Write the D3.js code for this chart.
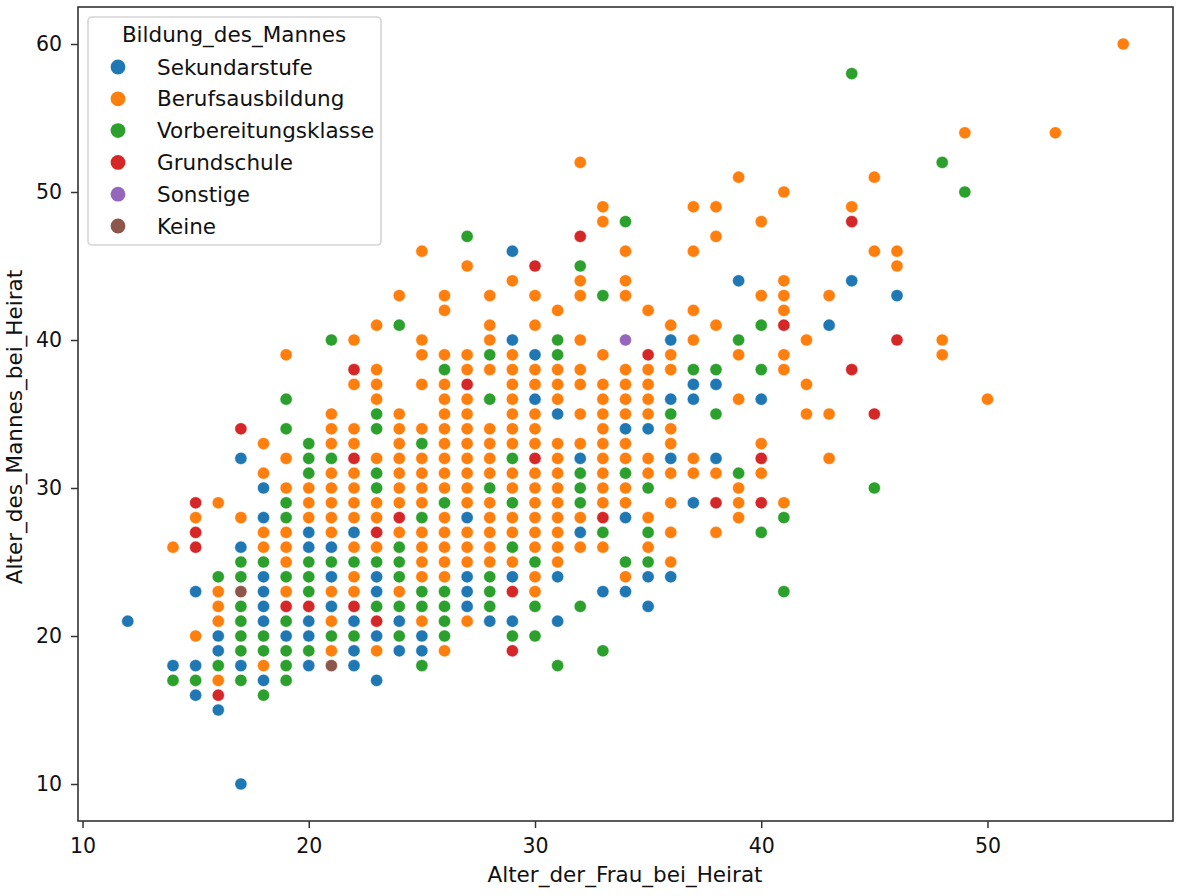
<!DOCTYPE html>
<html>
<head>
<meta charset="utf-8">
<script src="https://cdn.jsdelivr.net/npm/d3@7"></script>
<style>
	html, body { margin: 0; padding: 0; background: #fff; }
	svg { display: block; }
	text { font-family: "DejaVu Sans", sans-serif; fill: #111; }
</style>
</head>
<body>
<script>
// each row is [Alter_der_Frau, [Alter_des_Mannes, ...]]
const sekundarstufe = [[12,[21]],[14,[18]],[15,[23,18,16]],[16,[20,19,15]],[17,[32,26,18,10]],[18,[30,28,24,23,22,21,17]],[19,[20]],[20,[27,26,21,20,18]],[21,[26,24,22]],[22,[27,21,19,18]],[23,[24,23,20,17]],[24,[21,19]],[25,[20,19]],[27,[28,24,23,22]],[28,[21]],[29,[46,40,24,21]],[30,[39,36]],[31,[35,24,21]],[32,[32,27]],[33,[23]],[34,[34,28,23]],[35,[34,24,22]],[36,[40,36,32,24]],[37,[37,36,29]],[38,[37,32]],[39,[44]],[40,[36]],[43,[41]],[44,[44]],[46,[43]]]
const berufsausbildung = [[14,[26]],[15,[28,20]],[16,[29,23,22,21,17]],[17,[28]],[18,[33,31,27,26,18]],[19,[39,32,30,27,26,25,23]],[20,[30,29,28]],[21,[35,34,33,31,30,29,28,27,23,21,19]],[22,[40,37,34,33,31,30,29,28,26,24,23]],[23,[41,38,37,36,32,29,28,26,19]],[24,[43,35,34,33,32,31,30,29,27,23]],[25,[46,40,39,37,34,32,31,30,29,27,26,25,24,21]],[26,[43,42,39,37,36,35,34,33,32,31,30,28,27,26,25,24,19]],[27,[45,39,38,36,35,34,33,32,31,30,29,27,26,25,21]],[28,[43,41,40,38,34,33,32,31,29,28,27,26,25]],[29,[44,39,38,37,36,35,34,33,31,30,28,27,25]],[30,[43,41,38,37,35,34,33,31,30,29,28,27,26,24,23]],[31,[42,38,37,36,33,32,31,30,29,28,27,26,25]],[32,[52,44,43,40,38,37,35,33,28,26]],[33,[49,48,39,37,36,35,34,33,32,31,30,29,26]],[34,[46,44,43,38,37,36,35,33,32,30,29,24]],[35,[42,38,37,36,35,32,31,28,26]],[36,[41,39,38,34,33,31,29,27,25]],[37,[49,46,42,40,32,31]],[38,[49,47,41,31,27]],[39,[51,39,36,30,29,28]],[40,[48,43,33,31]],[41,[50,44,43,42,39,38,29]],[42,[40,37,35]],[43,[43,35,32]],[44,[49]],[45,[51,46]],[46,[46,45]],[48,[40,39]],[49,[54]],[50,[36]],[53,[54]],[56,[60]]]
const vorbereitungsklasse = [[14,[17]],[15,[17]],[16,[24,18]],[17,[25,24,22,21,20,19,17]],[18,[25,20,19,16]],[19,[36,34,29,28,24,21,19,18,17]],[20,[33,32,31,25,24,23,19]],[21,[40,32,25,20]],[22,[25,20]],[23,[35,34,31,30,25,22]],[24,[41,26,25,24,22,20]],[25,[33,28,23,22,18]],[26,[38,29,23,22,21,20]],[27,[47]],[28,[39,36,30,24,23,22]],[29,[32,29,26,20]],[30,[25,22,20]],[31,[40,39,18]],[32,[45,31,30,29,22]],[33,[43,27,19]],[34,[48,31,25]],[35,[30,27,25]],[36,[35]],[37,[38]],[38,[38,35]],[39,[40,31]],[40,[41,38,27]],[41,[28,23]],[44,[58]],[45,[30]],[48,[52]],[49,[50]]]
const grundschule = [[15,[29,27,26]],[16,[16]],[17,[34]],[19,[22]],[20,[22]],[22,[38,32,22]],[23,[27,21]],[24,[28]],[27,[37]],[29,[23,19]],[30,[45,32]],[32,[47]],[33,[28]],[35,[39]],[38,[29]],[40,[32,29]],[41,[41]],[44,[48,38]],[45,[35]],[46,[40]]]
const sonstige = [[34,[40]]]
const keine = [[17,[23]],[21,[18]]]

const categories = ['Sekundarstufe', 'Berufsausbildung', 'Vorbereitungsklasse', 'Grundschule', 'Sonstige', 'Keine']
const seriesRows = [sekundarstufe, berufsausbildung, vorbereitungsklasse, grundschule, sonstige, keine]
const colors = ['#1f77b4', '#ff7f0e', '#2ca02c', '#d62728', '#9467bd', '#8c564b']
const xTicks = [10, 20, 30, 40, 50]
const yTicks = [10, 20, 30, 40, 50, 60]

const width = 1184, height = 896
const margin = { left: 78, right: 11, top: 7, bottom: 75 }

const svg = d3.select('body').append('svg')
	.attr('width', width)
	.attr('height', height)

const x = d3.scaleLinear().domain([9.8, 58.2]).range([margin.left, width - margin.right])
const y = d3.scaleLinear().domain([7.5, 62.5]).range([height - margin.bottom, margin.top])
const color = d3.scaleOrdinal().domain(categories).range(colors)

const data = seriesRows.flatMap((rows, i) =>
	rows.flatMap(([frau, maenner]) => maenner.map(mann => ({ frau, mann, bildung: categories[i] }))))

svg.selectAll('circle.point')
	.data(data)
	.enter()
	.append('circle')
	.attr('class', 'point')
	.attr('cx', d => x(d.frau))
	.attr('cy', d => y(d.mann))
	.attr('r', 6.1)
	.attr('fill', d => color(d.bildung))
	.attr('stroke', '#fff')
	.attr('stroke-width', 0.5)

const xAxis = svg.append('g')
	.attr('transform', `translate(0,${height - margin.bottom})`)
	.call(d3.axisBottom(x).tickValues(xTicks).tickSize(7).tickPadding(10))
const yAxis = svg.append('g')
	.attr('transform', `translate(${margin.left},0)`)
	.call(d3.axisLeft(y).tickValues(yTicks).tickSize(7).tickPadding(9))

for (const axis of [xAxis, yAxis]) {
	axis.select('.domain').remove()
	axis.selectAll('.tick line').attr('stroke', '#333').attr('stroke-width', 1.5)
	axis.selectAll('.tick text').style('font-size', '20.5px').attr('fill', '#111')
}

// frame on top of the ticks
svg.append('rect')
	.attr('x', margin.left)
	.attr('y', margin.top)
	.attr('width', width - margin.left - margin.right)
	.attr('height', height - margin.top - margin.bottom)
	.attr('fill', 'none')
	.attr('stroke', '#333')
	.attr('stroke-width', 1.6)

svg.append('text')
	.attr('x', 625)
	.attr('y', 882)
	.attr('text-anchor', 'middle')
	.style('font-size', '21.5px')
	.text('Alter_der_Frau_bei_Heirat')

svg.append('text')
	.attr('transform', 'translate(22,427) rotate(-90)')
	.attr('text-anchor', 'middle')
	.style('font-size', '21.5px')
	.text('Alter_des_Mannes_bei_Heirat')

// legend
const legend = svg.append('g')
legend.append('rect')
	.attr('x', 88)
	.attr('y', 17)
	.attr('width', 293)
	.attr('height', 228)
	.attr('rx', 4)
	.attr('fill', '#fff')
	.attr('fill-opacity', 0.8)
	.attr('stroke', '#d5d5d5')
	.attr('stroke-width', 1.6)
legend.append('text')
	.attr('x', 234)
	.attr('y', 42)
	.attr('text-anchor', 'middle')
	.style('font-size', '21.5px')
	.text('Bildung_des_Mannes')

const legendY = d3.scalePoint().domain(categories).range([67, 226])
const rows = legend.selectAll('g.row')
	.data(categories)
	.enter()
	.append('g')
	.attr('class', 'row')
	.attr('transform', d => `translate(0,${legendY(d)})`)
rows.append('circle')
	.attr('cx', 118)
	.attr('r', 7.4)
	.attr('fill', d => color(d))
rows.append('text')
	.attr('x', 157)
	.attr('y', 7.5)
	.style('font-size', '21.5px')
	.text(d => d)
</script>
</body>
</html>
